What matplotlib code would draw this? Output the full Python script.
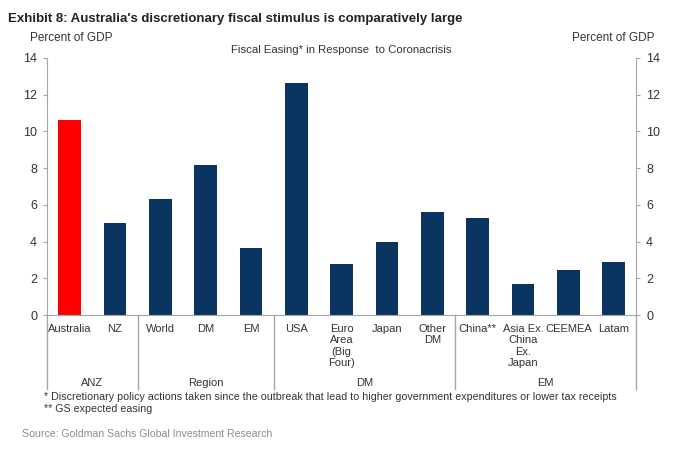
import matplotlib.pyplot as plt
import matplotlib.transforms as mtransforms

plt.rcParams['font.family'] = ['Liberation Sans', 'DejaVu Sans']

categories = ["Australia", "NZ", "World", "DM", "EM", "USA", "Euro\nArea\n(Big\nFour)",
              "Japan", "Other\nDM", "China**", "Asia Ex.\nChina\nEx.\nJapan", "CEEMEA", "Latam"]
values = [10.6, 5.0, 6.35, 8.18, 3.64, 12.62, 2.78, 3.98, 5.62, 5.29, 1.71, 2.47, 2.89]
groups = ["ANZ", "Region", "DM", "EM"]
group_edges = [-0.5, 1.5, 4.5, 8.5, 12.5]

navy = "#0b3561"
red = "#ff0000"
grey = "#a6a6a6"
txt = "#333333"

colors = [red] + [navy] * (len(values) - 1)

fig = plt.figure(figsize=(7, 4.49), dpi=100)
ax = fig.add_axes([0.067, 0.298, 0.842, 0.573])
x = list(range(len(values)))
ax.bar(x, values, width=0.5, color=colors, zorder=2)

ax.set_xlim(-0.5, 12.5)
ax.set_ylim(0, 14)
ax.set_yticks(range(0, 15, 2))
ax.spines["top"].set_visible(False)
for s in ["left", "right", "bottom"]:
    ax.spines[s].set_color(grey)
ax.tick_params(axis="y", which="both", length=3, color=grey, labelsize=9, labelcolor=txt,
               left=True, right=True, labelleft=True, labelright=True, pad=4)
ax.set_xticks(x)
ax.set_xticklabels(categories, fontsize=8, color=txt, linespacing=1.2, va="top")
ax.tick_params(axis="x", length=0, pad=6)

# group separators and labels below axis
trans = mtransforms.blended_transform_factory(ax.transData, ax.transAxes)
for e in group_edges:
    ax.plot([e, e], [0, -0.288], transform=trans, color=grey, lw=1, clip_on=False)
for i, g in enumerate(groups):
    c = (group_edges[i] + group_edges[i + 1]) / 2
    ax.text(c, -0.265, g, transform=trans, ha="center", va="center", fontsize=8, color=txt)

fig.text(0.011, 0.958, "Exhibit 8: Australia's discretionary fiscal stimulus is comparatively large",
         fontsize=9.5, fontweight="bold", color="#222222", va="center")
fig.text(0.043, 0.915, "Percent of GDP", fontsize=8.5, color=txt, va="center")
fig.text(0.935, 0.915, "Percent of GDP", fontsize=8.5, color=txt, va="center", ha="right")
fig.text(0.487, 0.888, "Fiscal Easing* in Response  to Coronacrisis", fontsize=8.2, color=txt,
         va="center", ha="center")
fig.text(0.063, 0.116,
         "* Discretionary policy actions taken since the outbreak that lead to higher government expenditures or lower tax receipts",
         fontsize=7.7, color=txt, va="center")
fig.text(0.063, 0.090, "** GS expected easing", fontsize=7.7, color=txt, va="center")
fig.text(0.031, 0.033, "Source: Goldman Sachs Global Investment Research", fontsize=7.6,
         color="#8c8c8c", va="center")

fig.savefig("out.png", dpi=100)
